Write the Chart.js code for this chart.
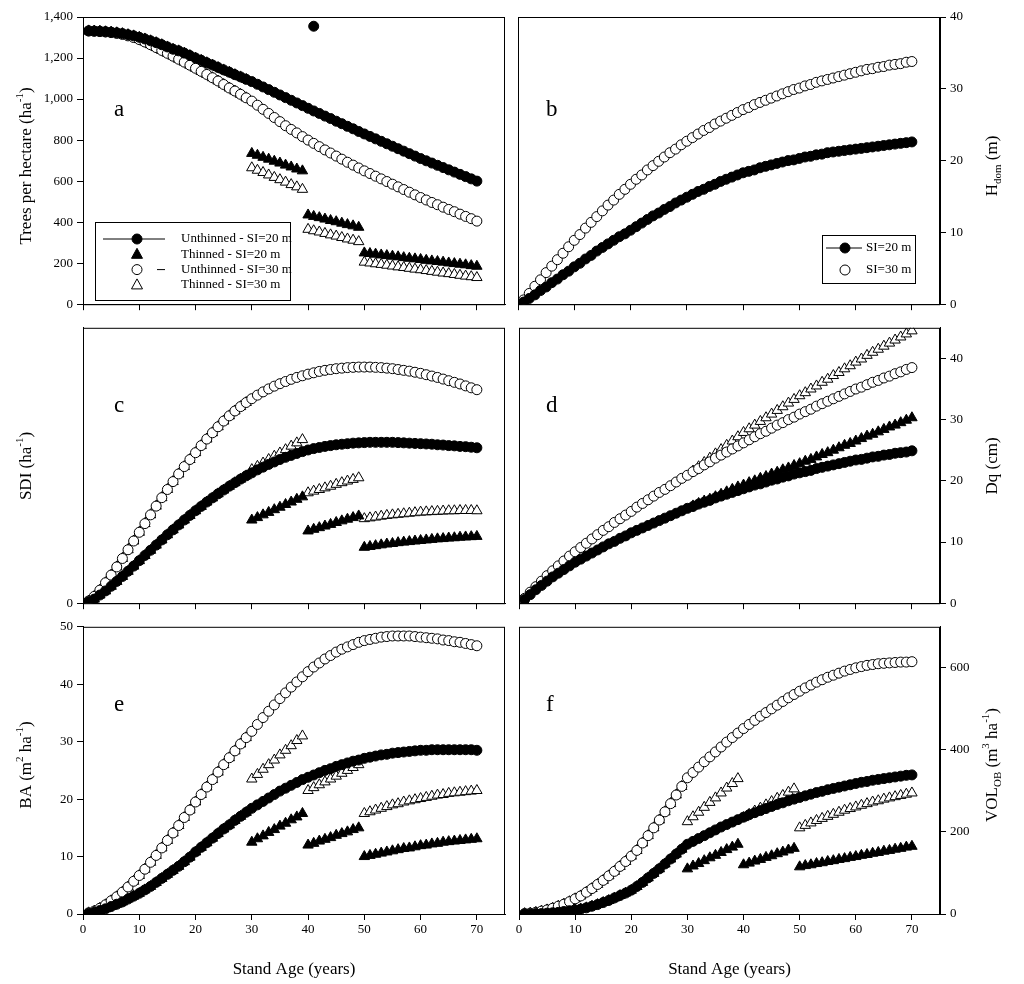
<!DOCTYPE html>
<html>
<head>
<meta charset="utf-8">
<script src="https://cdn.jsdelivr.net/npm/chart.js@4.4.1/dist/chart.umd.min.js"></script>
<style>
  body { margin: 0; background: #fff; }
  #wrap { position: relative; width: 1024px; height: 984px; }
  canvas { position: absolute; }
</style>
</head>
<body>
<div id="wrap">
  <canvas id="ca" width="512" height="316" style="left:0;top:0"></canvas>
  <canvas id="cb" width="512" height="316" style="left:512px;top:0"></canvas>
  <canvas id="cc" width="512" height="299" style="left:0;top:316px"></canvas>
  <canvas id="cd" width="512" height="299" style="left:512px;top:316px"></canvas>
  <canvas id="ce" width="512" height="369" style="left:0;top:615px"></canvas>
  <canvas id="cf" width="512" height="369" style="left:512px;top:615px"></canvas>
</div>
<script>
// ages 1..70 and thinning segments
const ages = Array.from({length: 70}, (_, i) => i + 1)
const seg1Ages = [30,31,32,33,34,35,36,37,38,39]
const seg2Ages = [40,41,42,43,44,45,46,47,48,49]
const seg3Ages = [50,51,52,53,54,55,56,57,58,59,60,61,62,63,64,65,66,67,68,69,70]

// a - trees per hectare
const tph20 = [1332,1331,1330,1328,1326,1323,1319,1314,1308,1301,1293,1284,1275,1265,1254,1243,1235,1224,1212,1200,
  1189,1177,1166,1154,1142,1131,1119,1108,1096,1085,1072,1059,1046,1033,1020,1007,994,981,968,955,
  942,930,917,905,892,880,867,855,842,830,818,806,794,782,770,758,746,734,722,710,
  699,688,677,666,655,644,633,622,611,600]
const tph30 = [1332,1331,1329,1327,1324,1320,1315,1308,1300,1290,1278,1265,1251,1237,1223,1209,1194,1180,1165,1150,
  1135,1120,1104,1088,1071,1054,1039,1023,1006,990,970,950,930,910,890,870,852,835,817,800,
  784,768,752,737,722,707,692,678,664,650,637,624,611,598,585,572,559,546,533,520,
  508,496,485,473,462,451,439,428,417,405]
const tphT20 = [[735,726,716,707,697,688,678,669,659,650],[435,428,422,415,408,402,395,388,382,375],
  [250,247,244,240,237,234,231,227,224,221,218,214,211,208,205,201,198,195,192,188,185]]
const tphT30 = [[665,653,642,630,618,607,595,583,572,560],[365,358,352,345,338,332,325,318,312,305],
  [205,201,197,194,190,186,182,179,175,171,168,164,160,156,152,149,145,141,137,134,130]]
const tphOutlierAge = [41]
const tphOutlier = [1355]

// b - dominant height
const hd20 = [0.3,0.8,1.3,1.9,2.4,3.0,3.5,4.1,4.6,5.2,5.7,6.3,6.8,7.4,7.9,8.4,8.9,9.4,9.8,10.3,
  10.8,11.3,11.8,12.3,12.7,13.2,13.6,14.1,14.5,14.9,15.3,15.7,16.0,16.4,16.7,17.1,17.4,17.7,18.0,18.3,
  18.5,18.7,19.0,19.2,19.4,19.6,19.8,20.0,20.1,20.3,20.5,20.6,20.8,20.9,21.1,21.2,21.3,21.4,21.5,21.6,
  21.7,21.8,21.9,22.0,22.1,22.2,22.3,22.4,22.5,22.6]
const hd30 = [0.6,1.5,2.5,3.4,4.4,5.3,6.2,7.1,8.0,8.9,9.7,10.6,11.4,12.2,13.0,13.8,14.5,15.3,16.0,16.7,
  17.4,18.0,18.7,19.3,19.9,20.5,21.1,21.6,22.2,22.7,23.2,23.7,24.2,24.6,25.1,25.5,25.9,26.3,26.7,27.1,
  27.4,27.8,28.1,28.4,28.7,29.0,29.3,29.6,29.9,30.1,30.4,30.6,30.9,31.1,31.3,31.5,31.7,31.9,32.1,32.3,
  32.5,32.7,32.8,33.0,33.1,33.3,33.4,33.5,33.7,33.8]

// c - SDI
const sdi20 = [5,15,30,45,62,80,98,117,136,156,175,194,213,232,251,269,287,305,322,339,
  355,371,386,401,415,429,442,455,467,478,489,499,509,518,527,535,542,549,556,562,
  567,571,575,578,581,583,585,587,588,589,590,590,590,590,590,589,588,587,586,585,
  584,583,581,580,578,577,575,574,572,570]
const sdi30 = [8,25,48,75,103,133,164,196,228,260,292,324,356,387,417,446,474,501,527,552,
  578,602,625,647,668,687,705,721,736,750,763,775,786,796,805,813,821,828,834,840,
  845,850,854,857,860,862,864,865,866,866,866,865,864,862,860,857,854,851,847,843,
  838,833,828,822,816,810,804,797,790,783]
const sdiT20 = [[305,314,324,333,343,352,362,371,381,390],[265,271,277,283,289,296,302,308,314,320],
  [205,208,211,214,217,219,222,224,226,228,230,232,234,236,237,239,240,242,243,244,245]]
const sdiT30 = [[490,502,514,527,539,551,563,576,588,600],[405,411,417,423,429,436,442,448,454,460],
  [310,313,316,319,322,324,326,328,330,332,334,335,336,337,338,339,339,340,340,340,339]]

// d - quadratic mean diameter
const dq20 = [0.6,1.4,2.2,2.9,3.6,4.3,4.9,5.5,6.1,6.7,7.2,7.7,8.2,8.7,9.2,9.7,10.1,10.6,11.0,11.5,
  11.9,12.3,12.7,13.1,13.5,13.9,14.3,14.7,15.1,15.5,15.8,16.2,16.5,16.8,17.2,17.5,17.8,18.1,18.4,18.7,
  19.0,19.3,19.5,19.8,20.1,20.3,20.6,20.8,21.1,21.3,21.5,21.7,22.0,22.2,22.4,22.6,22.8,23.0,23.2,23.4,
  23.5,23.7,23.9,24.0,24.2,24.3,24.5,24.6,24.7,24.9]
const dq30 = [0.8,1.8,2.7,3.6,4.5,5.3,6.1,6.9,7.7,8.4,9.1,9.8,10.5,11.2,11.9,12.5,13.2,13.8,14.4,15.0,
  15.7,16.3,16.9,17.5,18.1,18.6,19.2,19.8,20.4,20.9,21.5,22.0,22.6,23.1,23.7,24.2,24.7,25.2,25.7,26.2,
  26.7,27.2,27.7,28.1,28.6,29.1,29.5,30.0,30.4,30.9,31.3,31.7,32.2,32.6,33.0,33.4,33.8,34.2,34.6,35.0,
  35.3,35.7,36.1,36.4,36.8,37.1,37.5,37.8,38.2,38.5]
// thinned, ages 31..70 (before that equal to unthinned)
const dqT20 = [15.9,16.3,16.7,17.0,17.4,17.8,18.2,18.6,19.0,19.3,19.7,20.0,20.4,20.7,21.1,21.4,21.8,22.1,22.5,22.8,
  23.2,23.5,23.9,24.3,24.6,25.0,25.4,25.8,26.1,26.5,26.9,27.3,27.6,28.0,28.4,28.8,29.1,29.5,29.9,30.3]
const dqT30 = [21.6,22.3,23.0,23.7,24.4,25.1,25.8,26.5,27.2,27.9,28.5,29.1,29.7,30.3,30.9,31.5,32.1,32.7,33.3,33.9,
  34.4,35.0,35.5,36.1,36.6,37.2,37.7,38.3,38.8,39.4,39.9,40.5,41.0,41.5,42.0,42.5,43.0,43.5,44.0,44.5]

// e - basal area
const ba20 = [0.1,0.3,0.6,0.9,1.3,1.7,2.1,2.6,3.1,3.6,4.2,4.8,5.5,6.2,6.9,7.6,8.3,9.1,9.9,10.8,
  11.6,12.4,13.2,14.0,14.8,15.5,16.3,17.0,17.7,18.4,19.0,19.6,20.2,20.8,21.4,21.9,22.4,22.9,23.4,23.8,
  24.2,24.6,25.0,25.3,25.7,26.0,26.3,26.6,26.8,27.1,27.3,27.5,27.7,27.8,28.0,28.1,28.2,28.3,28.4,28.5,
  28.5,28.6,28.6,28.6,28.6,28.6,28.6,28.6,28.6,28.5]
const ba30 = [0.2,0.5,1.0,1.6,2.3,3.0,3.8,4.7,5.7,6.7,7.8,9.0,10.2,11.5,12.8,14.1,15.4,16.8,18.1,19.5,
  20.8,22.1,23.4,24.7,26.0,27.2,28.4,29.6,30.7,31.8,33.0,34.2,35.3,36.4,37.5,38.5,39.5,40.4,41.3,42.2,
  43.0,43.7,44.4,45.0,45.6,46.1,46.5,46.9,47.3,47.6,47.8,48.0,48.2,48.3,48.4,48.4,48.4,48.4,48.3,48.2,
  48.1,48.0,47.9,47.7,47.6,47.4,47.3,47.1,46.9,46.7]
const baT20 = [[12.5,13.1,13.6,14.2,14.7,15.3,15.8,16.4,16.9,17.5],[12.0,12.3,12.7,13.0,13.3,13.7,14.0,14.3,14.7,15.0],
  [10.0,10.2,10.4,10.6,10.8,11.0,11.2,11.4,11.5,11.7,11.9,12.0,12.2,12.3,12.5,12.6,12.7,12.8,12.9,13.0,13.1]]
const baT30 = [[23.5,24.3,25.2,26.0,26.8,27.7,28.5,29.3,30.2,31.0],[21.5,22.0,22.5,23.0,23.5,24.0,24.5,25.0,25.5,26.0],
  [17.5,17.8,18.1,18.4,18.7,19.0,19.2,19.5,19.7,19.9,20.1,20.3,20.5,20.7,20.8,21.0,21.1,21.2,21.3,21.4,21.5]]

// f - volume over bark
const vol20 = [0,0,1,1,2,3,4,6,8,10,12,15,19,23,28,33,39,45,51,58,
  67,77,88,99,110,122,134,146,158,170,177,184,191,198,205,212,218,224,230,236,
  242,247,252,257,262,267,271,276,280,284,288,292,296,299,303,306,309,312,315,318,
  321,323,326,328,330,332,334,336,338,339]
const vol30 = [1,2,4,7,10,14,19,24,30,37,44,53,62,72,82,93,104,116,128,141,
  155,173,191,210,229,249,269,290,311,332,345,358,371,383,395,407,419,430,441,452,
  462,472,482,491,500,509,518,527,535,543,551,558,565,571,577,582,587,592,596,600,
  603,606,608,610,611,612,613,614,614,615]
const volT20 = [[110,117,123,130,137,143,150,157,163,170],[120,124,129,133,138,142,147,151,156,160],
  [115,118,120,123,125,128,130,133,135,138,140,143,145,148,150,153,155,158,160,163,165]]
const volT30 = [[225,237,248,260,272,283,295,307,318,330],[235,243,251,258,266,274,282,289,297,305],
  [210,216,222,228,233,238,243,248,253,257,261,265,269,273,276,280,283,286,289,292,295]]

const FONT = '"Liberation Serif", "DejaVu Serif", serif'

function pts(xs, ys) { return ys.map((y, i) => ({x: xs[i], y: y})) }

// thinned series: same as unthinned until age 29, then three segments
function thinned(unthinned, segs) {
  return pts(ages.slice(0, 29), unthinned.slice(0, 29))
    .concat(pts(seg1Ages, segs[0]), pts(seg2Ages, segs[1]), pts(seg3Ages, segs[2]))
}

const mk = {
  fc: {pointStyle: 'circle', pointRadius: 5, backgroundColor: '#000', borderColor: '#000'},
  oc: {pointStyle: 'circle', pointRadius: 5, backgroundColor: '#fff', borderColor: '#000'},
  ft: {pointStyle: 'triangle', pointRadius: 6, backgroundColor: '#000', borderColor: '#000'},
  ot: {pointStyle: 'triangle', pointRadius: 6, backgroundColor: '#fff', borderColor: '#000'}
}
function ds(data, style) {
  return Object.assign({data: data, showLine: false, borderWidth: 1, pointHoverRadius: 5}, style)
}

// text with super/subscript parts, drawn centered (optionally rotated)
function richText(ctx, parts, x, y, size, rot) {
  ctx.save()
  ctx.translate(x, y)
  if (rot) ctx.rotate(rot)
  const small = Math.round(size * 0.62)
  let w = 0
  parts.forEach(p => {
    ctx.font = (p.sup || p.sub ? small : size) + 'px ' + FONT
    p.w = ctx.measureText(p.t).width
    w += p.w
  })
  let cx = -w / 2
  ctx.fillStyle = '#000'
  ctx.textBaseline = 'middle'
  ctx.textAlign = 'left'
  parts.forEach(p => {
    ctx.font = (p.sup || p.sub ? small : size) + 'px ' + FONT
    const dy = p.sup ? -size * 0.38 : p.sub ? size * 0.3 : 0
    ctx.fillText(p.t, cx, dy)
    cx += p.w
  })
  ctx.restore()
}

function drawMark(ctx, kind, x, y) {
  ctx.save()
  ctx.lineWidth = 1
  ctx.strokeStyle = '#000'
  ctx.fillStyle = kind[0] === 'f' ? '#000' : '#fff'
  ctx.beginPath()
  if (kind[1] === 'c') ctx.arc(x, y, 5, 0, Math.PI * 2)
  else { ctx.moveTo(x, y - 6); ctx.lineTo(x + 5.5, y + 4); ctx.lineTo(x - 5.5, y + 4); ctx.closePath() }
  ctx.fill(); ctx.stroke()
  ctx.restore()
}

const decor = {
  id: 'decor',
  afterDraw(chart, args, o) {
    const ctx = chart.ctx, a = chart.chartArea
    ctx.save()
    ctx.strokeStyle = '#000'
    ctx.lineWidth = 1
    ctx.strokeRect(a.left + 0.5, a.top + 0.5, a.right - a.left - 1, a.bottom - a.top)
    ctx.restore()
    ctx.fillStyle = '#000'
    ctx.font = '23px ' + FONT
    ctx.textAlign = 'left'
    ctx.textBaseline = 'middle'
    ctx.fillText(o.letter, o.letterX, o.letterY)
    richText(ctx, o.ytitle, o.titleX, o.titleY, 17, -Math.PI / 2)
    if (o.legend) {
      const L = o.legend
      ctx.save()
      ctx.strokeStyle = '#000'
      ctx.lineWidth = 1
      ctx.strokeRect(L.x + 0.5, L.y + 0.5, L.w, L.h)
      L.rows.forEach((r, i) => {
        const yy = L.y + L.first + i * L.gap
        if (r.line) { ctx.beginPath(); ctx.moveTo(r.line[0], yy); ctx.lineTo(r.line[1], yy); ctx.stroke() }
        drawMark(ctx, r.mark, L.mx, yy)
        ctx.font = '13px ' + FONT
        ctx.fillStyle = '#000'
        ctx.textBaseline = 'middle'
        ctx.fillText(r.label, L.tx, yy)
      })
      ctx.restore()
    }
  }
}

function makeChart(id, opts) {
  const left = opts.side === 'left'
  const yAxis = {
    type: 'linear', position: left ? 'left' : 'right',
    min: 0, max: opts.ymax,
    afterFit: s => { s.width = left ? 83 : 84 },
    afterBuildTicks: s => { s.ticks = s.ticks.filter(t => Math.abs(t.value / opts.ystep - Math.round(t.value / opts.ystep)) < 1e-6) },
    ticks: {stepSize: opts.ystep, color: '#000', font: {family: FONT, size: 13}, padding: 4},
    grid: {drawOnChartArea: false, tickLength: 6, color: '#000'},
    border: {color: '#000'}
  }
  const bottom = opts.bottom
  const xAxis = {
    type: 'linear', min: 0, max: 75,
    afterFit: s => { s.height = bottom ? 70 : 0 },
    afterBuildTicks: s => { s.ticks = s.ticks.filter(t => t.value % 10 === 0) },
    ticks: {display: bottom, stepSize: 10, color: '#000', font: {family: FONT, size: 13}, padding: 2, maxRotation: 0},
    grid: {drawOnChartArea: false, tickLength: 6, color: '#000'},
    border: {color: '#000'},
    title: {display: bottom, text: 'Stand Age (years)', color: '#000', font: {family: FONT, size: 17}, padding: {top: 6}}
  }
  return new Chart(document.getElementById(id), {
    type: 'scatter',
    data: {datasets: opts.datasets},
    options: {
      responsive: false, animation: false,
      layout: {padding: {top: opts.top || 0, left: 0, right: 0, bottom: 0}},
      scales: {x: xAxis, y: yAxis},
      plugins: {legend: {display: false}, tooltip: {enabled: false}, decor: opts.decor}
    },
    plugins: [decor]
  })
}

const leftTitleX = 27, rightTitleX = 481

makeChart('ca', {
  side: 'left', top: 17, ymax: 1400, ystep: 200,
  datasets: [
    ds(pts(ages, tph20), mk.fc), ds(pts(tphOutlierAge, tphOutlier), mk.fc),
    ds(pts(ages, tph30), mk.oc),
    ds(thinned(tph20, tphT20), mk.ft), ds(thinned(tph30, tphT30), mk.ot)
  ],
  decor: {
    letter: 'a', letterX: 114, letterY: 110,
    ytitle: [{t: 'Trees per hectare (ha'}, {t: '-1', sup: true}, {t: ')'}], titleX: leftTitleX, titleY: 166,
    legend: {x: 95, y: 222, w: 195, h: 78, first: 17, gap: 15.3, mx: 137, tx: 181, rows: [
      {mark: 'fc', label: 'Unthinned - SI=20 m', line: [103, 165]},
      {mark: 'ft', label: 'Thinned - SI=20 m'},
      {mark: 'oc', label: 'Unthinned - SI=30 m', line: [157, 165]},
      {mark: 'ot', label: 'Thinned - SI=30 m'}
    ]}
  }
})

makeChart('cb', {
  side: 'right', top: 17, ymax: 40, ystep: 10,
  datasets: [ds(pts(ages, hd20), mk.fc), ds(pts(ages, hd30), mk.oc)],
  decor: {
    letter: 'b', letterX: 34, letterY: 110,
    ytitle: [{t: 'H'}, {t: 'dom', sub: true}, {t: ' (m)'}], titleX: rightTitleX, titleY: 166,
    legend: {x: 310, y: 235, w: 93, h: 48, first: 13, gap: 22, mx: 333, tx: 354, rows: [
      {mark: 'fc', label: 'SI=20 m', line: [314, 350]},
      {mark: 'oc', label: 'SI=30 m'}
    ]}
  }
})

makeChart('cc', {
  side: 'left', ymax: 1010, ystep: 200,
  datasets: [
    ds(pts(ages, sdi20), mk.fc), ds(pts(ages, sdi30), mk.oc),
    ds(thinned(sdi20, sdiT20), mk.ft), ds(thinned(sdi30, sdiT30), mk.ot)
  ],
  decor: {
    letter: 'c', letterX: 114, letterY: 90,
    ytitle: [{t: 'SDI (ha'}, {t: '-1', sup: true}, {t: ')'}], titleX: leftTitleX, titleY: 150
  }
})

makeChart('cd', {
  side: 'right', ymax: 45, ystep: 10,
  datasets: [
    ds(pts(ages, dq20), mk.fc), ds(pts(ages, dq30), mk.oc),
    ds(pts(ages.slice(30), dqT20), mk.ft), ds(pts(ages.slice(30), dqT30), mk.ot)
  ],
  decor: {
    letter: 'd', letterX: 34, letterY: 90,
    ytitle: [{t: 'Dq (cm)'}], titleX: rightTitleX, titleY: 150
  }
})

makeChart('ce', {
  side: 'left', ymax: 50, ystep: 10, bottom: true,
  datasets: [
    ds(pts(ages, ba20), mk.fc), ds(pts(ages, ba30), mk.oc),
    ds(thinned(ba20, baT20), mk.ft), ds(thinned(ba30, baT30), mk.ot)
  ],
  decor: {
    letter: 'e', letterX: 114, letterY: 90,
    ytitle: [{t: 'BA (m'}, {t: '2', sup: true}, {t: ' ha'}, {t: '-1', sup: true}, {t: ')'}], titleX: leftTitleX, titleY: 150
  }
})

makeChart('cf', {
  side: 'right', ymax: 700, ystep: 200, bottom: true,
  datasets: [
    ds(pts(ages, vol20), mk.fc), ds(pts(ages, vol30), mk.oc),
    ds(thinned(vol20, volT20), mk.ft), ds(thinned(vol30, volT30), mk.ot)
  ],
  decor: {
    letter: 'f', letterX: 34, letterY: 90,
    ytitle: [{t: 'VOL'}, {t: 'OB', sub: true}, {t: ' (m'}, {t: '3', sup: true}, {t: ' ha'}, {t: '-1', sup: true}, {t: ')'}], titleX: rightTitleX, titleY: 150
  }
})
</script>
</body>
</html>
